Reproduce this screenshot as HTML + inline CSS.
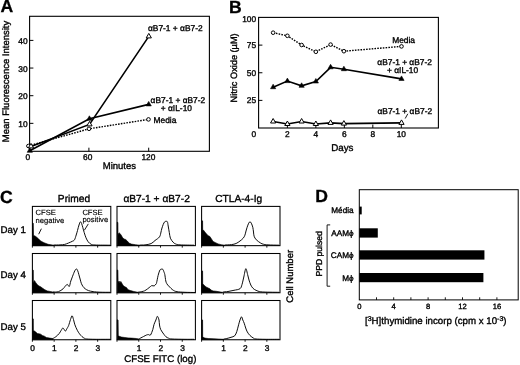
<!DOCTYPE html>
<html><head><meta charset="utf-8"><style>
html,body{margin:0;padding:0;background:#fff;}
svg{display:block;font-family:"Liberation Sans", sans-serif;will-change:transform;text-rendering:geometricPrecision;}
text{stroke:#000;stroke-width:0.35px;}
text.b{stroke-width:0.3px;}
text.t{stroke-width:0.15px;}
</style></head><body>
<svg width="520" height="365" viewBox="0 0 520 365" fill="#000">
<rect x="0" y="0" width="520" height="365" fill="#fff"/>
<text x="0.5" y="12.3" font-size="17.6" font-weight="bold" class="b">A</text>
<rect x="29.6" y="16.3" width="179.8" height="135" fill="none" stroke="#000" stroke-width="1.1"/>
<line x1="29.6" y1="123.35" x2="33.4" y2="123.35" stroke="#000" stroke-width="1"/>
<text x="27.6" y="126.85" font-size="8.4" text-anchor="end">10</text>
<line x1="29.6" y1="95.7" x2="33.4" y2="95.7" stroke="#000" stroke-width="1"/>
<text x="27.6" y="99.2" font-size="8.4" text-anchor="end">20</text>
<line x1="29.6" y1="68.05" x2="33.4" y2="68.05" stroke="#000" stroke-width="1"/>
<text x="27.6" y="71.55" font-size="8.4" text-anchor="end">30</text>
<line x1="29.6" y1="40.4" x2="33.4" y2="40.4" stroke="#000" stroke-width="1"/>
<text x="27.6" y="43.9" font-size="8.4" text-anchor="end">40</text>
<line x1="88.9" y1="151.3" x2="88.9" y2="147.7" stroke="#000" stroke-width="1"/>
<line x1="148.7" y1="151.3" x2="148.7" y2="147.7" stroke="#000" stroke-width="1"/>
<text x="27.8" y="160.2" font-size="8.4" text-anchor="middle">0</text>
<text x="87.7" y="160.2" font-size="8.4" text-anchor="middle">60</text>
<text x="148.4" y="160.2" font-size="8.4" text-anchor="middle">120</text>
<text x="119.4" y="169.3" font-size="9.5" text-anchor="middle">Minutes</text>
<text x="9.2" y="81.5" font-size="9.5" text-anchor="middle" transform="rotate(-90 9.2 81.5)">Mean Fluorescence Intensity</text>
<polyline points="28.40,146.00 89.00,128.80 148.50,119.40" fill="none" stroke="#000" stroke-width="1.4" stroke-dasharray="1.6,1.2"/>
<polyline points="29.80,150.80 89.40,118.80 148.70,104.40" fill="none" stroke="#000" stroke-width="1.6"/>
<polyline points="31.00,146.40 89.50,124.40 148.80,36.40" fill="none" stroke="#000" stroke-width="1.6"/>
<circle cx="28.4" cy="146.0" r="1.8" fill="#fff" stroke="#000" stroke-width="1"/>
<circle cx="89.0" cy="128.8" r="1.8" fill="#fff" stroke="#000" stroke-width="1"/>
<circle cx="148.5" cy="119.4" r="1.8" fill="#fff" stroke="#000" stroke-width="1"/>
<polygon points="31.00,143.40 28.40,147.90 33.60,147.90" fill="#fff" stroke="#000" stroke-width="1"/>
<polygon points="89.50,121.40 86.90,125.90 92.10,125.90" fill="#fff" stroke="#000" stroke-width="1"/>
<polygon points="148.80,33.40 146.20,37.90 151.40,37.90" fill="#fff" stroke="#000" stroke-width="1"/>
<polygon points="29.80,147.80 27.20,152.30 32.40,152.30" fill="#000" stroke="#000" stroke-width="0.6"/>
<polygon points="89.40,115.80 86.80,120.30 92.00,120.30" fill="#000" stroke="#000" stroke-width="0.6"/>
<polygon points="148.70,101.40 146.10,105.90 151.30,105.90" fill="#000" stroke="#000" stroke-width="0.6"/>
<text x="148" y="30.8" font-size="8.4">αB7-1 + αB7-2</text>
<text x="150.6" y="102.8" font-size="8.4">αB7-1 + αB7-2</text>
<text x="160.8" y="110.7" font-size="8.4">+ αIL-10</text>
<text x="153.5" y="122.7" font-size="8.4">Media</text>
<text x="228.9" y="13.1" font-size="17.6" font-weight="bold" class="b">B</text>
<rect x="258.6" y="17.4" width="179.8" height="110.6" fill="none" stroke="#000" stroke-width="1.1"/>
<line x1="258.6" y1="100.38" x2="262.4" y2="100.38" stroke="#000" stroke-width="1"/>
<text x="256.2" y="103.38" font-size="8.4" text-anchor="end">25</text>
<line x1="258.6" y1="72.75" x2="262.4" y2="72.75" stroke="#000" stroke-width="1"/>
<text x="256.2" y="75.75" font-size="8.4" text-anchor="end">50</text>
<line x1="258.6" y1="45.12" x2="262.4" y2="45.12" stroke="#000" stroke-width="1"/>
<text x="256.2" y="48.12" font-size="8.4" text-anchor="end">75</text>
<text x="256.2" y="21.9" font-size="8.4" text-anchor="end">100</text>
<line x1="287.38" y1="128" x2="287.38" y2="124.6" stroke="#000" stroke-width="1"/>
<line x1="315.86" y1="128" x2="315.86" y2="124.6" stroke="#000" stroke-width="1"/>
<line x1="344.34" y1="128" x2="344.34" y2="124.6" stroke="#000" stroke-width="1"/>
<line x1="372.82" y1="128" x2="372.82" y2="124.6" stroke="#000" stroke-width="1"/>
<line x1="401.3" y1="128" x2="401.3" y2="124.6" stroke="#000" stroke-width="1"/>
<text x="253.8" y="137.3" font-size="8.4" text-anchor="middle">0</text>
<text x="287.38" y="137.3" font-size="8.4" text-anchor="middle">2</text>
<text x="315.86" y="137.3" font-size="8.4" text-anchor="middle">4</text>
<text x="344.34" y="137.3" font-size="8.4" text-anchor="middle">6</text>
<text x="372.82" y="137.3" font-size="8.4" text-anchor="middle">8</text>
<text x="401.3" y="137.3" font-size="8.4" text-anchor="middle">10</text>
<text x="342.3" y="150.9" font-size="9.8" text-anchor="middle">Days</text>
<text x="236.8" y="67.9" font-size="9.2" text-anchor="middle" transform="rotate(-90 236.8 67.9)">Nitric Oxide (µM)</text>
<polyline points="273.14,32.70 287.38,35.80 301.62,45.00 315.86,51.80 330.60,44.60 343.90,51.20 401.50,46.40" fill="none" stroke="#000" stroke-width="1.4" stroke-dasharray="1.6,1.2"/>
<polyline points="273.14,87.20 287.38,81.10 301.62,85.80 315.86,81.50 330.60,67.30 343.90,69.20 401.50,78.90" fill="none" stroke="#000" stroke-width="1.6"/>
<polyline points="273.14,121.50 287.38,124.00 301.62,121.50 315.86,124.00 330.60,122.90 343.90,123.60 401.50,122.90" fill="none" stroke="#000" stroke-width="1.6"/>
<circle cx="273.14" cy="32.7" r="1.8" fill="#fff" stroke="#000" stroke-width="1"/>
<circle cx="287.38" cy="35.8" r="1.8" fill="#fff" stroke="#000" stroke-width="1"/>
<circle cx="301.62" cy="45.0" r="1.8" fill="#fff" stroke="#000" stroke-width="1"/>
<circle cx="315.85999999999996" cy="51.8" r="1.8" fill="#fff" stroke="#000" stroke-width="1"/>
<circle cx="330.6" cy="44.6" r="1.8" fill="#fff" stroke="#000" stroke-width="1"/>
<circle cx="343.9" cy="51.2" r="1.8" fill="#fff" stroke="#000" stroke-width="1"/>
<circle cx="401.5" cy="46.4" r="1.8" fill="#fff" stroke="#000" stroke-width="1"/>
<polygon points="273.14,84.20 270.54,88.70 275.74,88.70" fill="#000" stroke="#000" stroke-width="0.6"/>
<polygon points="287.38,78.10 284.78,82.60 289.98,82.60" fill="#000" stroke="#000" stroke-width="0.6"/>
<polygon points="301.62,82.80 299.02,87.30 304.22,87.30" fill="#000" stroke="#000" stroke-width="0.6"/>
<polygon points="315.86,78.50 313.26,83.00 318.46,83.00" fill="#000" stroke="#000" stroke-width="0.6"/>
<polygon points="330.60,64.30 328.00,68.80 333.20,68.80" fill="#000" stroke="#000" stroke-width="0.6"/>
<polygon points="343.90,66.20 341.30,70.70 346.50,70.70" fill="#000" stroke="#000" stroke-width="0.6"/>
<polygon points="401.50,75.90 398.90,80.40 404.10,80.40" fill="#000" stroke="#000" stroke-width="0.6"/>
<polygon points="273.14,118.50 270.54,123.00 275.74,123.00" fill="#fff" stroke="#000" stroke-width="1"/>
<polygon points="287.38,121.00 284.78,125.50 289.98,125.50" fill="#fff" stroke="#000" stroke-width="1"/>
<polygon points="301.62,118.50 299.02,123.00 304.22,123.00" fill="#fff" stroke="#000" stroke-width="1"/>
<polygon points="315.86,121.00 313.26,125.50 318.46,125.50" fill="#fff" stroke="#000" stroke-width="1"/>
<polygon points="330.60,119.90 328.00,124.40 333.20,124.40" fill="#fff" stroke="#000" stroke-width="1"/>
<polygon points="343.90,120.60 341.30,125.10 346.50,125.10" fill="#fff" stroke="#000" stroke-width="1"/>
<polygon points="401.50,119.90 398.90,124.40 404.10,124.40" fill="#fff" stroke="#000" stroke-width="1"/>
<text x="392.2" y="42.6" font-size="8.4">Media</text>
<text x="377.3" y="65.2" font-size="8.4">αB7-1 + αB7-2</text>
<text x="387" y="73" font-size="8.4">+ αIL-10</text>
<text x="377.5" y="113.6" font-size="8.4">αB7-1 + αB7-2</text>
<line x1="405.2" y1="118.5" x2="407.8" y2="113.8" stroke="#000" stroke-width="0.9"/>
<text x="0" y="202.6" font-size="17.6" font-weight="bold" class="b">C</text>
<text x="74" y="201.8" font-size="10.2" text-anchor="middle">Primed</text>
<text x="156.6" y="201.8" font-size="10.2" text-anchor="middle">αB7-1 + αB7-2</text>
<text x="238.7" y="201.8" font-size="10.2" text-anchor="middle">CTLA-4-Ig</text>
<text x="0.6" y="232.6" font-size="9.7">Day 1</text>
<text x="0.6" y="278" font-size="9.7">Day 4</text>
<text x="0.6" y="329.7" font-size="9.7">Day 5</text>
<text x="293" y="276.3" font-size="9.5" text-anchor="middle" transform="rotate(-90 293 276.3)">Cell Number</text>
<text x="160.3" y="362.2" font-size="9.7" text-anchor="middle">CFSE FITC (log)</text>
<polygon points="32.60,245.65 32.60,223.00 33.30,223.30 33.50,235.30 35.80,236.50 38.20,238.50 40.70,241.00 44.00,242.70 48.10,244.30 53.80,245.20 53.80,245.65" fill="#000" stroke="#000" stroke-width="0.6"/>
<path d="M53.70,245.00 C54.75,244.98 58.17,245.00 60.00,244.90 C61.83,244.80 63.28,244.72 64.70,244.40 C66.12,244.08 67.20,243.53 68.50,243.00 C69.80,242.47 71.50,241.73 72.50,241.20 C73.50,240.67 73.88,240.83 74.50,239.80 C75.12,238.77 75.70,236.55 76.20,235.00 C76.70,233.45 77.03,232.17 77.50,230.50 C77.97,228.83 78.52,226.45 79.00,225.00 C79.48,223.55 79.97,222.05 80.40,221.80 C80.83,221.55 81.20,222.55 81.60,223.50 C82.00,224.45 82.37,226.00 82.80,227.50 C83.23,229.00 83.67,230.78 84.20,232.50 C84.73,234.22 85.33,236.25 86.00,237.80 C86.67,239.35 87.37,240.73 88.20,241.80 C89.03,242.87 89.87,243.67 91.00,244.20 C92.13,244.73 91.83,244.83 95.00,245.00 C98.17,245.17 107.50,245.17 110.00,245.20" fill="none" stroke="#000" stroke-width="0.95" stroke-linejoin="round"/>
<rect x="32.4" y="206.4" width="78.4" height="39.25" fill="none" stroke="#000" stroke-width="1.05"/>
<line x1="54.15" y1="245.65" x2="54.15" y2="247.65" stroke="#000" stroke-width="0.9"/>
<line x1="75.9" y1="245.65" x2="75.9" y2="247.65" stroke="#000" stroke-width="0.9"/>
<line x1="97.65" y1="245.65" x2="97.65" y2="247.65" stroke="#000" stroke-width="0.9"/>
<line x1="32.4" y1="245.65" x2="32.4" y2="247.65" stroke="#000" stroke-width="0.9"/>
<polygon points="32.60,292.75 32.60,269.90 33.30,270.20 33.40,282.70 34.50,280.60 35.80,282.70 37.40,284.70 39.00,286.00 40.70,286.80 42.30,288.00 44.80,289.70 47.30,290.90 50.50,291.50 53.80,292.30 53.80,292.75" fill="#000" stroke="#000" stroke-width="0.6"/>
<path d="M52.90,292.00 C53.82,291.95 56.70,292.23 58.40,291.70 C60.10,291.17 61.97,289.72 63.10,288.80 C64.23,287.88 64.50,286.93 65.20,286.20 C65.90,285.47 66.62,284.37 67.30,284.40 C67.98,284.43 68.72,286.97 69.30,286.40 C69.88,285.83 70.25,282.70 70.80,281.00 C71.35,279.30 71.95,277.87 72.60,276.20 C73.25,274.53 74.07,272.22 74.70,271.00 C75.33,269.78 75.88,268.90 76.40,268.90 C76.92,268.90 77.38,270.03 77.80,271.00 C78.22,271.97 78.52,273.37 78.90,274.70 C79.28,276.03 79.70,277.57 80.10,279.00 C80.50,280.43 80.82,282.05 81.30,283.30 C81.78,284.55 82.35,285.58 83.00,286.50 C83.65,287.42 84.28,288.12 85.20,288.80 C86.12,289.48 87.18,290.13 88.50,290.60 C89.82,291.07 91.18,291.33 93.10,291.60 C95.02,291.87 97.18,292.08 100.00,292.20 C102.82,292.32 108.33,292.28 110.00,292.30" fill="none" stroke="#000" stroke-width="0.95" stroke-linejoin="round"/>
<rect x="32.4" y="253.5" width="78.4" height="39.25" fill="none" stroke="#000" stroke-width="1.05"/>
<line x1="54.15" y1="292.75" x2="54.15" y2="294.75" stroke="#000" stroke-width="0.9"/>
<line x1="75.9" y1="292.75" x2="75.9" y2="294.75" stroke="#000" stroke-width="0.9"/>
<line x1="97.65" y1="292.75" x2="97.65" y2="294.75" stroke="#000" stroke-width="0.9"/>
<line x1="32.4" y1="292.75" x2="32.4" y2="294.75" stroke="#000" stroke-width="0.9"/>
<polygon points="32.60,339.75 32.60,318.60 33.30,318.90 33.40,330.50 34.50,331.10 35.80,332.10 37.40,333.50 39.00,333.80 40.70,334.20 42.30,335.40 44.40,336.20 46.40,337.50 49.70,338.10 53.00,338.60 53.00,339.75" fill="#000" stroke="#000" stroke-width="0.6"/>
<path d="M53.00,338.50 C53.50,338.18 54.97,337.43 56.00,336.60 C57.03,335.77 58.33,334.55 59.20,333.50 C60.07,332.45 60.60,331.22 61.20,330.30 C61.80,329.38 62.30,328.13 62.80,328.00 C63.30,327.87 63.75,328.98 64.20,329.50 C64.65,330.02 65.03,331.27 65.50,331.10 C65.97,330.93 66.48,329.42 67.00,328.50 C67.52,327.58 68.02,327.10 68.60,325.60 C69.18,324.10 69.92,321.13 70.50,319.50 C71.08,317.87 71.60,315.80 72.10,315.80 C72.60,315.80 73.03,318.00 73.50,319.50 C73.97,321.00 74.27,323.00 74.90,324.80 C75.53,326.60 76.53,328.80 77.30,330.30 C78.07,331.80 78.72,332.75 79.50,333.80 C80.28,334.85 81.17,335.85 82.00,336.60 C82.83,337.35 83.70,337.90 84.50,338.30 C85.30,338.70 85.05,338.83 86.80,339.00 C88.55,339.17 91.13,339.25 95.00,339.30 C98.87,339.35 107.50,339.30 110.00,339.30" fill="none" stroke="#000" stroke-width="0.95" stroke-linejoin="round"/>
<rect x="32.4" y="300.5" width="78.4" height="39.25" fill="none" stroke="#000" stroke-width="1.05"/>
<line x1="54.15" y1="339.75" x2="54.15" y2="341.75" stroke="#000" stroke-width="0.9"/>
<line x1="75.9" y1="339.75" x2="75.9" y2="341.75" stroke="#000" stroke-width="0.9"/>
<line x1="97.65" y1="339.75" x2="97.65" y2="341.75" stroke="#000" stroke-width="0.9"/>
<line x1="32.4" y1="339.75" x2="32.4" y2="341.75" stroke="#000" stroke-width="0.9"/>
<polygon points="117.20,245.65 117.20,222.10 117.90,222.50 118.00,234.40 119.10,232.80 120.80,234.40 122.40,237.30 124.00,239.00 125.70,239.50 127.30,241.00 129.00,243.10 131.40,244.10 135.50,244.70 139.70,245.20 139.70,245.65" fill="#000" stroke="#000" stroke-width="0.6"/>
<path d="M139.70,245.00 C140.58,244.98 143.10,245.13 145.00,244.90 C146.90,244.67 149.43,244.33 151.10,243.60 C152.77,242.87 153.60,241.62 155.00,240.50 C156.40,239.38 158.50,238.32 159.50,236.90 C160.50,235.48 160.63,233.32 161.00,232.00 C161.37,230.68 161.33,230.25 161.70,229.00 C162.07,227.75 162.70,225.70 163.20,224.50 C163.70,223.30 164.23,222.32 164.70,221.80 C165.17,221.28 165.55,221.40 166.00,221.40 C166.45,221.40 167.03,221.03 167.40,221.80 C167.77,222.57 167.88,224.22 168.20,226.00 C168.52,227.78 168.93,230.47 169.30,232.50 C169.67,234.53 169.77,236.58 170.40,238.20 C171.03,239.82 172.22,241.23 173.10,242.20 C173.98,243.17 174.55,243.55 175.70,244.00 C176.85,244.45 176.95,244.70 180.00,244.90 C183.05,245.10 191.67,245.15 194.00,245.20" fill="none" stroke="#000" stroke-width="0.95" stroke-linejoin="round"/>
<rect x="117" y="206.4" width="78.4" height="39.25" fill="none" stroke="#000" stroke-width="1.05"/>
<line x1="138.75" y1="245.65" x2="138.75" y2="247.65" stroke="#000" stroke-width="0.9"/>
<line x1="160.5" y1="245.65" x2="160.5" y2="247.65" stroke="#000" stroke-width="0.9"/>
<line x1="182.25" y1="245.65" x2="182.25" y2="247.65" stroke="#000" stroke-width="0.9"/>
<line x1="117" y1="245.65" x2="117" y2="247.65" stroke="#000" stroke-width="0.9"/>
<polygon points="117.20,292.75 117.20,269.90 117.90,270.20 118.10,282.30 119.10,281.00 119.90,282.70 120.80,281.40 122.00,283.50 123.20,285.50 124.90,286.80 126.50,287.60 128.10,289.70 130.60,290.60 133.90,291.50 138.00,292.30 138.00,292.75" fill="#000" stroke="#000" stroke-width="0.6"/>
<path d="M138.00,292.20 C138.63,292.10 140.70,291.83 141.80,291.60 C142.90,291.37 143.65,291.25 144.60,290.80 C145.55,290.35 146.52,289.62 147.50,288.90 C148.48,288.18 149.78,287.05 150.50,286.50 C151.22,285.95 151.18,285.70 151.80,285.60 C152.42,285.50 153.50,286.17 154.20,285.90 C154.90,285.63 155.60,284.53 156.00,284.00 C156.40,283.47 156.25,284.12 156.60,282.70 C156.95,281.28 157.62,277.45 158.10,275.50 C158.58,273.55 159.10,272.02 159.50,271.00 C159.90,269.98 160.13,269.72 160.50,269.40 C160.87,269.08 161.30,269.10 161.70,269.10 C162.10,269.10 162.55,269.00 162.90,269.40 C163.25,269.80 163.48,270.65 163.80,271.50 C164.12,272.35 164.47,272.92 164.80,274.50 C165.13,276.08 165.43,279.42 165.80,281.00 C166.17,282.58 166.52,283.17 167.00,284.00 C167.48,284.83 168.03,285.27 168.70,286.00 C169.37,286.73 170.20,287.67 171.00,288.40 C171.80,289.13 172.50,289.85 173.50,290.40 C174.50,290.95 175.08,291.38 177.00,291.70 C178.92,292.02 182.00,292.17 185.00,292.30 C188.00,292.43 193.33,292.47 195.00,292.50" fill="none" stroke="#000" stroke-width="0.95" stroke-linejoin="round"/>
<rect x="117" y="253.5" width="78.4" height="39.25" fill="none" stroke="#000" stroke-width="1.05"/>
<line x1="138.75" y1="292.75" x2="138.75" y2="294.75" stroke="#000" stroke-width="0.9"/>
<line x1="160.5" y1="292.75" x2="160.5" y2="294.75" stroke="#000" stroke-width="0.9"/>
<line x1="182.25" y1="292.75" x2="182.25" y2="294.75" stroke="#000" stroke-width="0.9"/>
<line x1="117" y1="292.75" x2="117" y2="294.75" stroke="#000" stroke-width="0.9"/>
<polygon points="117.20,339.75 117.20,319.80 118.10,320.10 118.30,335.80 119.90,336.50 121.60,337.10 124.90,337.50 128.10,337.90 131.40,338.10 136.40,338.50 138.70,338.90 138.70,339.75" fill="#000" stroke="#000" stroke-width="0.6"/>
<path d="M138.70,339.00 C139.48,338.60 142.10,337.27 143.40,336.60 C144.70,335.93 145.65,335.33 146.50,335.00 C147.35,334.67 147.83,334.60 148.50,334.60 C149.17,334.60 149.78,335.85 150.50,335.00 C151.22,334.15 152.22,331.25 152.80,329.50 C153.38,327.75 153.48,326.08 154.00,324.50 C154.52,322.92 155.33,321.37 155.90,320.00 C156.47,318.63 156.88,316.30 157.40,316.30 C157.92,316.30 158.65,318.55 159.00,320.00 C159.35,321.45 159.22,323.42 159.50,325.00 C159.78,326.58 159.97,327.95 160.70,329.50 C161.43,331.05 163.02,333.08 163.90,334.30 C164.78,335.52 165.22,336.15 166.00,336.80 C166.78,337.45 167.60,337.83 168.60,338.20 C169.60,338.57 169.27,338.82 172.00,339.00 C174.73,339.18 181.33,339.25 185.00,339.30 C188.67,339.35 192.50,339.30 194.00,339.30" fill="none" stroke="#000" stroke-width="0.95" stroke-linejoin="round"/>
<rect x="117" y="300.5" width="78.4" height="39.25" fill="none" stroke="#000" stroke-width="1.05"/>
<line x1="138.75" y1="339.75" x2="138.75" y2="341.75" stroke="#000" stroke-width="0.9"/>
<line x1="160.5" y1="339.75" x2="160.5" y2="341.75" stroke="#000" stroke-width="0.9"/>
<line x1="182.25" y1="339.75" x2="182.25" y2="341.75" stroke="#000" stroke-width="0.9"/>
<line x1="117" y1="339.75" x2="117" y2="341.75" stroke="#000" stroke-width="0.9"/>
<polygon points="201.90,245.65 201.90,220.50 202.60,221.00 202.70,230.30 203.70,230.30 204.90,232.00 206.60,234.00 208.20,235.70 209.90,236.50 211.50,239.00 213.10,241.40 215.60,242.70 218.10,243.90 221.40,244.70 224.70,245.20 224.70,245.65" fill="#000" stroke="#000" stroke-width="0.6"/>
<path d="M224.70,245.00 C225.83,244.93 229.60,244.85 231.50,244.60 C233.40,244.35 234.68,244.10 236.10,243.50 C237.52,242.90 238.82,241.88 240.00,241.00 C241.18,240.12 242.38,239.17 243.20,238.20 C244.02,237.23 244.43,236.40 244.90,235.20 C245.37,234.00 245.63,232.32 246.00,231.00 C246.37,229.68 246.65,228.60 247.10,227.30 C247.55,226.00 248.22,224.12 248.70,223.20 C249.18,222.28 249.57,221.80 250.00,221.80 C250.43,221.80 250.83,222.28 251.30,223.20 C251.77,224.12 252.43,225.83 252.80,227.30 C253.17,228.77 253.28,230.52 253.50,232.00 C253.72,233.48 253.63,234.90 254.10,236.20 C254.57,237.50 255.20,238.65 256.30,239.80 C257.40,240.95 259.53,242.37 260.70,243.10 C261.87,243.83 262.08,243.90 263.30,244.20 C264.52,244.50 265.38,244.73 268.00,244.90 C270.62,245.07 277.17,245.15 279.00,245.20" fill="none" stroke="#000" stroke-width="0.95" stroke-linejoin="round"/>
<rect x="201.6" y="206.4" width="78.4" height="39.25" fill="none" stroke="#000" stroke-width="1.05"/>
<line x1="223.35" y1="245.65" x2="223.35" y2="247.65" stroke="#000" stroke-width="0.9"/>
<line x1="245.1" y1="245.65" x2="245.1" y2="247.65" stroke="#000" stroke-width="0.9"/>
<line x1="266.85" y1="245.65" x2="266.85" y2="247.65" stroke="#000" stroke-width="0.9"/>
<line x1="201.6" y1="245.65" x2="201.6" y2="247.65" stroke="#000" stroke-width="0.9"/>
<polygon points="201.90,292.75 201.90,270.80 202.60,271.10 202.70,283.50 203.70,284.70 204.90,286.00 206.60,287.20 208.20,288.00 209.90,288.80 211.10,290.10 213.10,290.90 216.40,291.30 222.20,292.30 222.20,292.75" fill="#000" stroke="#000" stroke-width="0.6"/>
<path d="M222.70,292.00 C223.58,291.92 226.12,291.78 228.00,291.50 C229.88,291.22 232.00,290.77 234.00,290.30 C236.00,289.83 238.67,289.67 240.00,288.70 C241.33,287.73 241.37,286.45 242.00,284.50 C242.63,282.55 243.17,279.63 243.80,277.00 C244.43,274.37 245.17,269.12 245.80,268.70 C246.43,268.28 247.07,272.62 247.60,274.50 C248.13,276.38 248.47,278.25 249.00,280.00 C249.53,281.75 250.13,283.62 250.80,285.00 C251.47,286.38 252.13,287.42 253.00,288.30 C253.87,289.18 254.70,289.72 256.00,290.30 C257.30,290.88 258.47,291.48 260.80,291.80 C263.13,292.12 266.97,292.12 270.00,292.20 C273.03,292.28 277.50,292.28 279.00,292.30" fill="none" stroke="#000" stroke-width="0.95" stroke-linejoin="round"/>
<rect x="201.6" y="253.5" width="78.4" height="39.25" fill="none" stroke="#000" stroke-width="1.05"/>
<line x1="223.35" y1="292.75" x2="223.35" y2="294.75" stroke="#000" stroke-width="0.9"/>
<line x1="245.1" y1="292.75" x2="245.1" y2="294.75" stroke="#000" stroke-width="0.9"/>
<line x1="266.85" y1="292.75" x2="266.85" y2="294.75" stroke="#000" stroke-width="0.9"/>
<line x1="201.6" y1="292.75" x2="201.6" y2="294.75" stroke="#000" stroke-width="0.9"/>
<polygon points="201.90,339.75 201.90,319.80 202.60,320.10 202.70,337.10 204.90,338.10 208.20,338.50 213.10,338.70 218.10,339.00 223.70,339.30 223.70,339.75" fill="#000" stroke="#000" stroke-width="0.6"/>
<path d="M223.70,339.00 C224.22,338.92 225.58,338.78 226.80,338.50 C228.02,338.22 229.68,337.75 231.00,337.30 C232.32,336.85 233.73,336.77 234.70,335.80 C235.67,334.83 236.15,333.33 236.80,331.50 C237.45,329.67 238.07,326.72 238.60,324.80 C239.13,322.88 239.52,321.33 240.00,320.00 C240.48,318.67 241.03,316.80 241.50,316.80 C241.97,316.80 242.35,318.93 242.80,320.00 C243.25,321.07 243.72,321.87 244.20,323.20 C244.68,324.53 245.18,326.55 245.70,328.00 C246.22,329.45 246.58,330.65 247.30,331.90 C248.02,333.15 248.95,334.45 250.00,335.50 C251.05,336.55 252.60,337.62 253.60,338.20 C254.60,338.78 254.10,338.82 256.00,339.00 C257.90,339.18 261.17,339.25 265.00,339.30 C268.83,339.35 276.67,339.30 279.00,339.30" fill="none" stroke="#000" stroke-width="0.95" stroke-linejoin="round"/>
<rect x="201.6" y="300.5" width="78.4" height="39.25" fill="none" stroke="#000" stroke-width="1.05"/>
<line x1="223.35" y1="339.75" x2="223.35" y2="341.75" stroke="#000" stroke-width="0.9"/>
<line x1="245.1" y1="339.75" x2="245.1" y2="341.75" stroke="#000" stroke-width="0.9"/>
<line x1="266.85" y1="339.75" x2="266.85" y2="341.75" stroke="#000" stroke-width="0.9"/>
<line x1="201.6" y1="339.75" x2="201.6" y2="341.75" stroke="#000" stroke-width="0.9"/>
<text x="32.7" y="351" font-size="8.4" text-anchor="middle">0</text>
<text x="54.45" y="351" font-size="8.4" text-anchor="middle">1</text>
<text x="76.2" y="351" font-size="8.4" text-anchor="middle">2</text>
<text x="97.95" y="351" font-size="8.4" text-anchor="middle">3</text>
<text x="139.05" y="351" font-size="8.4" text-anchor="middle">1</text>
<text x="160.8" y="351" font-size="8.4" text-anchor="middle">2</text>
<text x="182.55" y="351" font-size="8.4" text-anchor="middle">3</text>
<text x="223.65" y="351" font-size="8.4" text-anchor="middle">1</text>
<text x="245.4" y="351" font-size="8.4" text-anchor="middle">2</text>
<text x="267.15" y="351" font-size="8.4" text-anchor="middle">3</text>
<text x="35.6" y="214.8" font-size="7.6" class="t">CFSE</text>
<text x="35.6" y="222.6" font-size="7.6" class="t">negative</text>
<line x1="38.7" y1="234.2" x2="41.4" y2="228.7" stroke="#000" stroke-width="0.9"/>
<text x="82.4" y="214.8" font-size="7.6" class="t">CFSE</text>
<text x="82.4" y="221.6" font-size="7.6" class="t">positive</text>
<line x1="84.4" y1="230.2" x2="88.3" y2="223.9" stroke="#000" stroke-width="0.9"/>
<text x="315.2" y="201.7" font-size="17.6" font-weight="bold" class="b">D</text>
<rect x="359.3" y="189.7" width="158.9" height="110.2" fill="none" stroke="#000" stroke-width="1.0"/>
<line x1="376.5" y1="299.9" x2="376.5" y2="297.3" stroke="#000" stroke-width="0.9"/>
<line x1="393.7" y1="299.9" x2="393.7" y2="297.3" stroke="#000" stroke-width="0.9"/>
<line x1="410.9" y1="299.9" x2="410.9" y2="297.3" stroke="#000" stroke-width="0.9"/>
<line x1="428.1" y1="299.9" x2="428.1" y2="297.3" stroke="#000" stroke-width="0.9"/>
<line x1="445.3" y1="299.9" x2="445.3" y2="297.3" stroke="#000" stroke-width="0.9"/>
<line x1="462.5" y1="299.9" x2="462.5" y2="297.3" stroke="#000" stroke-width="0.9"/>
<line x1="479.7" y1="299.9" x2="479.7" y2="297.3" stroke="#000" stroke-width="0.9"/>
<line x1="496.9" y1="299.9" x2="496.9" y2="297.3" stroke="#000" stroke-width="0.9"/>
<text x="359.3" y="309.4" font-size="7.6" text-anchor="middle">0</text>
<text x="393.7" y="309.4" font-size="7.6" text-anchor="middle">4</text>
<text x="428.1" y="309.4" font-size="7.6" text-anchor="middle">8</text>
<text x="462.5" y="309.4" font-size="7.6" text-anchor="middle">12</text>
<text x="496.9" y="309.4" font-size="7.6" text-anchor="middle">16</text>
<rect x="359.3" y="206.6" width="2.41" height="7.80" fill="#000"/>
<rect x="359.3" y="228.3" width="18.49" height="9.30" fill="#000"/>
<rect x="359.3" y="250.3" width="125.13" height="9.30" fill="#000"/>
<rect x="359.3" y="273.0" width="124.10" height="9.20" fill="#000"/>
<text x="353.6" y="213.3" font-size="8.2" text-anchor="end">Média</text>
<text x="353.6" y="235.8" font-size="8.2" text-anchor="end">AAMϕ</text>
<text x="353.6" y="257.6" font-size="8.2" text-anchor="end">CAMϕ</text>
<text x="353.6" y="280.8" font-size="8.2" text-anchor="end">Mϕ</text>
<polyline points="330.2,224.9 327.1,224.9 327.1,286.2 330.2,286.2" fill="none" stroke="#000" stroke-width="0.9"/>
<text x="321.6" y="253.8" font-size="8.6" text-anchor="middle" transform="rotate(-90 321.6 253.8)">PPD pulsed</text>
<text x="365.0" y="323.7" font-size="9.7">[<tspan font-size="7" dy="-3.2">3</tspan><tspan dy="3.2">H]thymidine incorp (cpm x 10</tspan><tspan font-size="7" dy="-3.2">-3</tspan><tspan dy="3.2">)</tspan></text>
</svg>
</body></html>
